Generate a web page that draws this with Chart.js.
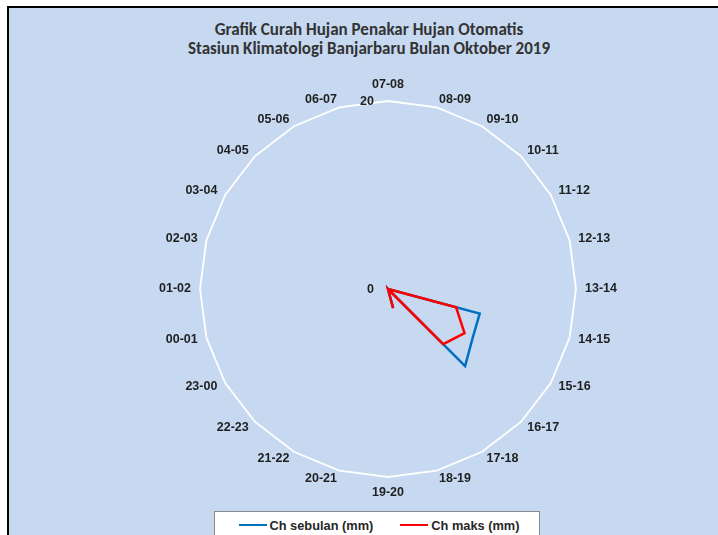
<!DOCTYPE html>
<html>
<head>
<meta charset="utf-8">
<script src="https://cdn.jsdelivr.net/npm/chart.js@4/dist/chart.umd.min.js"></script>
<style>
  html, body { margin: 0; padding: 0; background: #ffffff; width: 718px; height: 535px; overflow: hidden; }
  .frame {
    position: absolute; left: 7px; top: 6px; right: 0; bottom: 0;
    border-left: 2px solid #000; border-top: 2px solid #000;
    background: #c6d9f1;
  }
  .title {
    position: absolute; left: 119px; width: 500px; top: 20px;
    text-align: center; font-family: Carlito, "Liberation Sans Narrow", "Liberation Sans", sans-serif;
    font-weight: bold; font-size: 17px; line-height: 19px; color: #333333;
  }
  #chart { position: absolute; left: 0; top: 0; }
  .legend {
    position: absolute; left: 214px; top: 511px; width: 326px; height: 40px;
    background: #fff; border: 1px solid #8a8a8a; box-sizing: border-box;
    display: flex; justify-content: center; gap: 27px; padding-top: 5px; padding-left: 4px;
    font-family: "Liberation Sans", Arial, sans-serif; font-weight: bold; font-size: 12.8px; color: #262626;
  }
  .legend .item { display: flex; align-items: center; height: 16px; }
  .legend .swatch { width: 28px; height: 2px; margin-right: 3px; }
</style>
</head>
<body>
<div class="frame"></div>
<div class="title">Grafik Curah Hujan Penakar Hujan Otomatis<br>Stasiun Klimatologi Banjarbaru Bulan Oktober 2019</div>
<canvas id="chart" width="718" height="535"></canvas>
<div class="legend" id="legend"></div>
<script>
// Hourly intervals, clockwise from the top of the radar
const hours = ['07-08','08-09','09-10','10-11','11-12','12-13','13-14','14-15','15-16','16-17','17-18','18-19',
               '19-20','20-21','21-22','22-23','23-00','00-01','01-02','02-03','03-04','04-05','05-06','06-07'];

// Monthly total rainfall per hour (mm)
const chSebulan = [0,0,0,0,0,0,0,10.1,10.4,11.6,0,2.1,0,0,0,0,0,0,0,0,0,0,0,0];
// Maximum rainfall per hour (mm)
const chMaks    = [0,0,0,0,0,0,0,7.5,9.4,8.3,0,2.1,0,0,0,0,0,0,0,0,0,0,0,0];

// Radial axis labels
const tickLabels = [0, 20];

const seriesNames = ['Ch sebulan (mm)', 'Ch maks (mm)'];
const seriesColors = ['#0070c0', '#ff0000'];

const labelFont = 'bold 12.5px "Liberation Sans", Arial, sans-serif';
const labelColor = '#1f1f1f';

// Category labels placed beside each polygon vertex, vertically centred
const hourLabelPlugin = {
  id: 'hourLabelPlugin',
  afterDraw(chart) {
    const r = chart.scales.r;
    const ctx = chart.ctx;
    const n = chart.data.labels.length;
    ctx.save();
    ctx.font = labelFont;
    ctx.fillStyle = labelColor;
    ctx.textBaseline = 'middle';
    chart.data.labels.forEach((lab, i) => {
      const p = r.getPointPosition(i, r.drawingArea);
      const a = i * 2 * Math.PI / n;
      const s = Math.sin(a), c = Math.cos(a);
      if (Math.abs(s) < 1e-6) {
        ctx.textAlign = 'center';
        ctx.fillText(lab, p.x, p.y - Math.sign(c) * 16);
      } else {
        ctx.textAlign = s > 0 ? 'left' : 'right';
        ctx.fillText(lab, p.x + 9 * s, p.y - 8 * c);
      }
    });
    ctx.restore();
  }
};

// Radial tick labels drawn to the left of the vertical axis
const tickLabelPlugin = {
  id: 'tickLabelPlugin',
  afterDraw(chart) {
    const r = chart.scales.r;
    const ctx = chart.ctx;
    ctx.save();
    ctx.font = labelFont;
    ctx.fillStyle = labelColor;
    ctx.textAlign = 'right';
    ctx.textBaseline = 'middle';
    tickLabels.forEach(v => {
      const d = r.getDistanceFromCenterForValue(v);
      ctx.fillText(String(v), r.xCenter - 14, r.yCenter - d + 1);
    });
    ctx.restore();
  }
};

const chart = new Chart(document.getElementById('chart'), {
  type: 'radar',
  data: {
    labels: hours,
    datasets: [
      { label: seriesNames[0], data: chSebulan, borderColor: seriesColors[0], backgroundColor: seriesColors[0],
        borderWidth: 2.5, pointRadius: 0, fill: false, order: 1 },
      { label: seriesNames[1], data: chMaks, borderColor: seriesColors[1], backgroundColor: seriesColors[1],
        borderWidth: 2.5, pointRadius: 0, fill: false, order: 0 }
    ]
  },
  options: {
    responsive: false,
    animation: false,
    layout: { padding: { top: 101, bottom: 58, left: 100, right: 42 } },
    plugins: { legend: { display: false }, title: { display: false }, tooltip: { enabled: false } },
    scales: {
      r: {
        min: 0, max: 20,
        ticks: { display: false, stepSize: 20 },
        grid: { color: '#ffffff', lineWidth: 1.8, circular: false },
        angleLines: { display: false },
        pointLabels: { display: false }
      }
    }
  },
  plugins: [hourLabelPlugin, tickLabelPlugin]
});

// Legend built from the datasets
const legendEl = document.getElementById('legend');
chart.data.datasets.forEach(ds => {
  const item = document.createElement('div');
  item.className = 'item';
  const sw = document.createElement('span');
  sw.className = 'swatch';
  sw.style.background = ds.borderColor;
  const tx = document.createElement('span');
  tx.textContent = ds.label;
  item.appendChild(sw);
  item.appendChild(tx);
  legendEl.appendChild(item);
});
</script>
</body>
</html>
